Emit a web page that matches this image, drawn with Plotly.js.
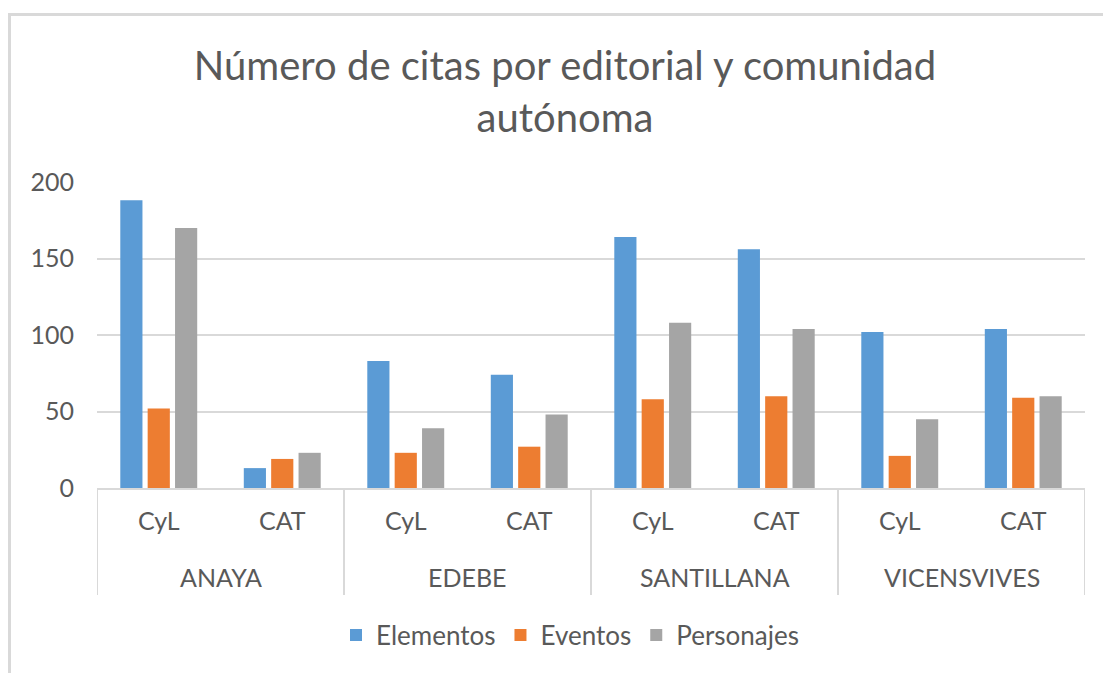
<!DOCTYPE html>
<html>
<head>
<meta charset="utf-8">
<script src="https://cdn.plot.ly/plotly-3.0.1.min.js"></script>
<style>
  html, body { margin: 0; padding: 0; background: #ffffff; }
  #chart { width: 1103px; height: 673px; }
</style>
</head>
<body>
<div id="chart"></div>
<script>
// ---- data ----
const editorials = ['ANAYA', 'EDEBE', 'SANTILLANA', 'VICENSVIVES'];
const regions = ['CyL', 'CAT'];
const seriesNames = ['Elementos', 'Eventos', 'Personajes'];
const elementos  = [188, 13, 83, 74, 164, 156, 102, 104];
const eventos    = [52, 19, 23, 27, 58, 60, 21, 59];
const personajes = [170, 23, 39, 48, 108, 104, 45, 60];
const seriesColors = ['#5b9bd5', '#ed7d31', '#a5a5a5'];
const yTickVals = [0, 50, 100, 150, 200];

// ---- build category keys (editorial + region) ----
const catKeys = [], catInner = [];
editorials.forEach(e => regions.forEach(r => { catKeys.push(e + ' · ' + r); catInner.push(r); }));

const FONT = 'Lato, "Open Sans", sans-serif';
const TXT = '#595959';
const GRID = '#d9d9d9';

const allValues = [elementos, eventos, personajes];
const traces = seriesNames.map((name, i) => ({
  type: 'bar',
  name: name,
  x: catKeys,
  y: allValues[i],
  marker: { color: seriesColors[i], line: { width: 0 } },
  hoverinfo: 'x+y+name'
}));

// plot area in px
const L = 97, R = 18, T = 182, B = 185;
const W = 1103 - L - R, H = 673 - T - B;
const px2x = p => (p - L) / W;
const py2y = p => (673 - B - p) / H;

// outer-level labels and dividers, positioned on the category axis
const n = regions.length;
const annotations = editorials.map((e, k) => ({
  xref: 'x', yref: 'paper',
  x: k * n + (n - 1) / 2,
  y: py2y(577),
  text: e,
  showarrow: false,
  xanchor: 'center', yanchor: 'middle',
  font: { family: FONT, size: 25, color: TXT }
}));
const shapes = [];
for (let k = 0; k <= editorials.length; k++) {
  shapes.push({
    type: 'line', xref: 'x', yref: 'paper',
    x0: k * n - 0.5, x1: k * n - 0.5,
    y0: 0, y1: py2y(595),
    line: { color: GRID, width: 2 }
  });
}
// outer chart frame (top and left edges visible)
shapes.push({
  type: 'path',
  xref: 'paper', yref: 'paper',
  path: 'M ' + px2x(9.5) + ' ' + py2y(700) + ' L ' + px2x(9.5) + ' ' + py2y(14.5) + ' L ' + px2x(1130) + ' ' + py2y(14.5),
  line: { color: GRID, width: 3 },
  layer: 'below'
});

const layout = {
  width: 1103,
  height: 673,
  margin: { l: L, r: R, t: T, b: B, pad: 0 },
  paper_bgcolor: '#ffffff',
  plot_bgcolor: '#ffffff',
  font: { family: FONT, color: TXT, size: 25 },
  title: {
    text: 'Número de citas por editorial y comunidad<br>autónoma',
    font: { family: FONT, size: 40, color: TXT },
    x: 565 / 1103,
    xanchor: 'center',
    xref: 'container',
    yref: 'container',
    y: 1 - 80 / 673,
    yanchor: 'top'
  },
  barmode: 'group',
  bargap: 0.335,
  bargroupgap: 0.19,
  xaxis: {
    type: 'category',
    tickvals: catKeys,
    ticktext: catInner,
    showgrid: false,
    showline: true,
    linecolor: GRID,
    linewidth: 2,
    ticks: '',
    ticklabelstandoff: 10,
    tickfont: { family: FONT, size: 25, color: TXT },
    zeroline: false,
    range: [-0.5, catKeys.length - 0.5]
  },
  yaxis: {
    range: [0, 200],
    tickvals: yTickVals,
    ticktext: yTickVals.map(String),
    showgrid: true,
    gridcolor: GRID,
    gridwidth: 2,
    showline: false,
    zeroline: false,
    ticks: '',
    ticklabelstandoff: 22,
    tickfont: { family: FONT, size: 25, color: TXT }
  },
  showlegend: true,
  legend: {
    orientation: 'h',
    x: px2x(570),
    xanchor: 'center',
    y: py2y(635),
    yanchor: 'middle',
    font: { family: FONT, size: 26, color: TXT },
    bgcolor: 'rgba(0,0,0,0)',
    traceorder: 'normal'
  },
  annotations: annotations,
  shapes: shapes
};

Plotly.newPlot('chart', traces, layout, { displayModeBar: false, staticPlot: true });
</script>
</body>
</html>
